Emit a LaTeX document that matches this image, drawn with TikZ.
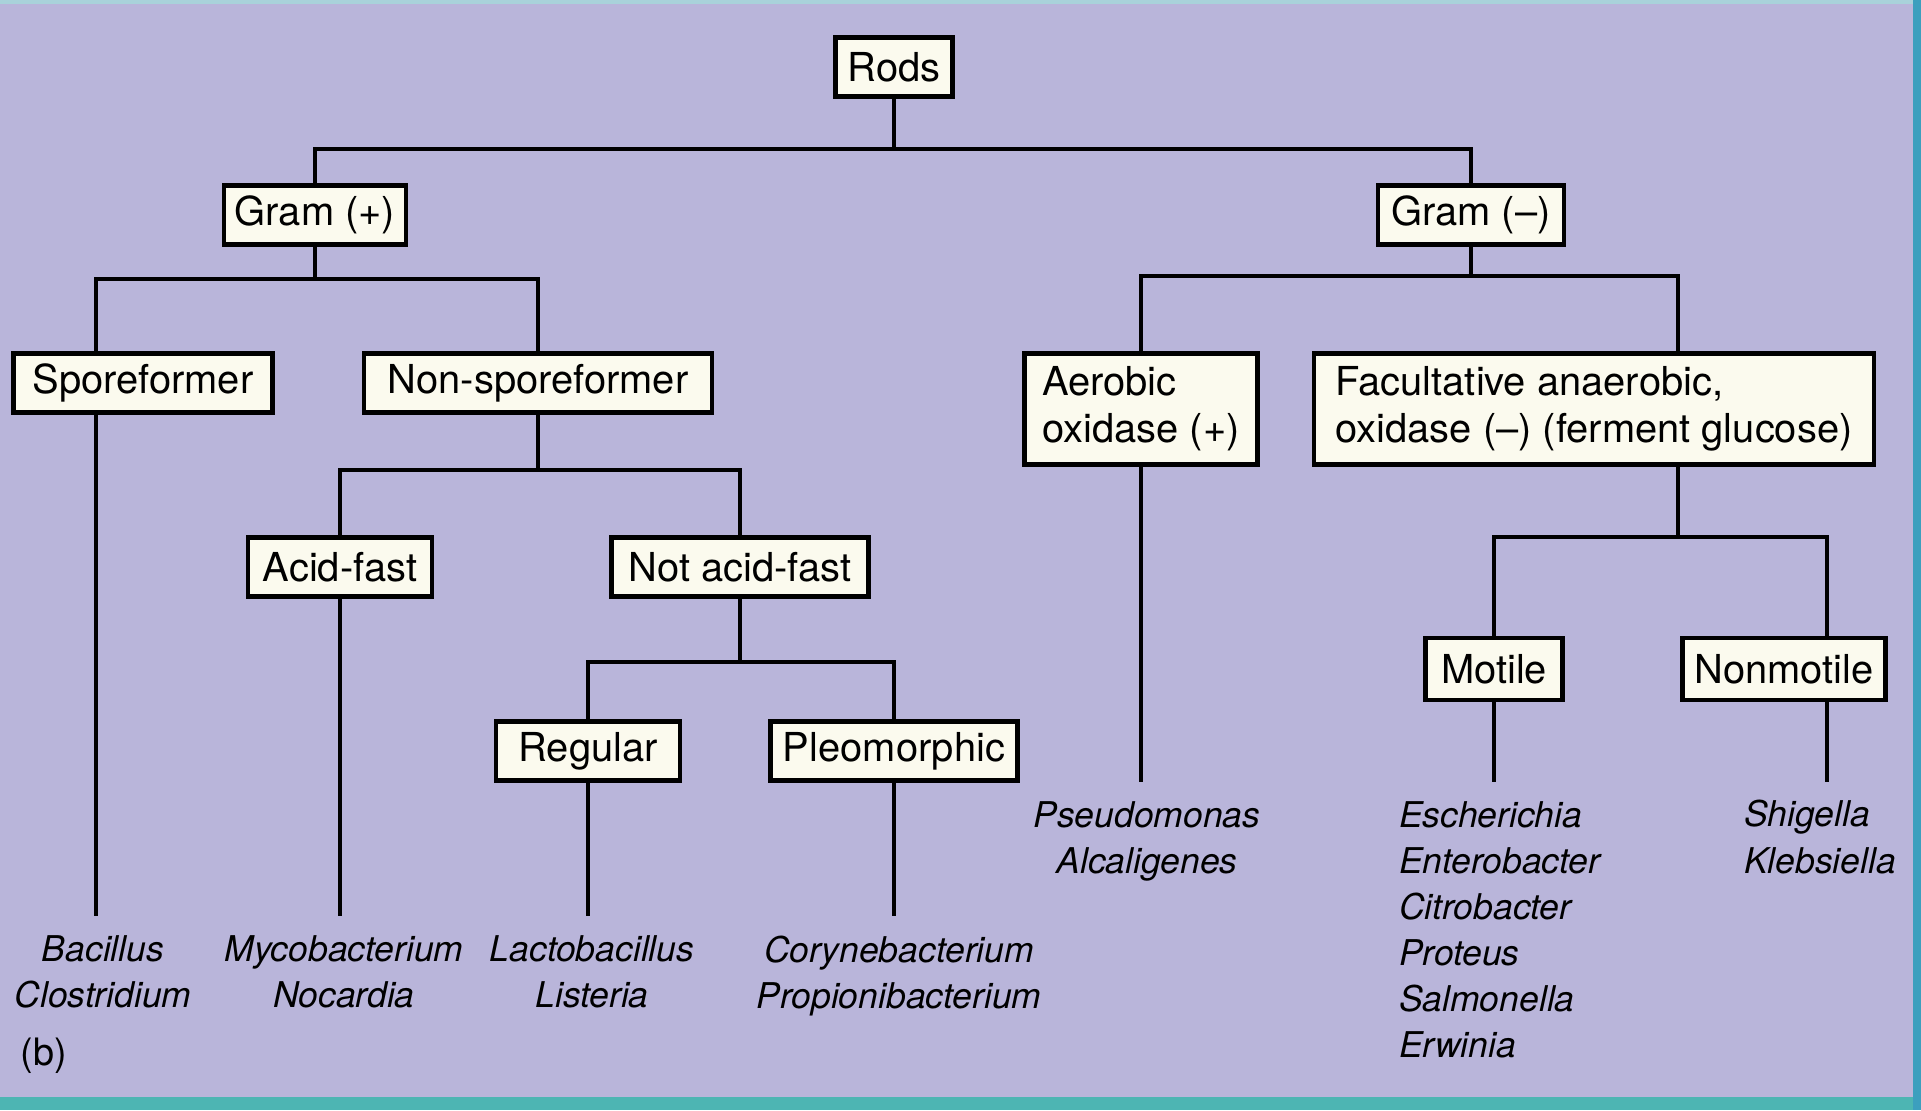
\documentclass[tikz,border=0pt]{standalone}
\usepackage{fontspec}
\setmainfont{TeX Gyre Heros}

\definecolor{backlav}{HTML}{B9B5DA}
\definecolor{boxfill}{HTML}{FBFAEE}
\definecolor{stripteal}{HTML}{4DB5B3}
\definecolor{stripblue}{HTML}{3C9FBE}
\definecolor{striplight}{HTML}{A9D2DA}

\begin{document}
\begin{tikzpicture}[x=0.02cm, y=-0.02cm, line width=2.4pt, line join=miter,
    box/.style={draw, fill=boxfill, minimum height=1.18cm, inner sep=0pt,
      font=\fontsize{22.7}{26.7}\selectfont},
    genus/.style={align=center, inner sep=0pt, font=\fontsize{20.2}{26.2}\selectfont\itshape}]

  \useasboundingbox (0,0) rectangle (1921,1110);
  \fill[backlav] (0,0) rectangle (1921,1110);
  \fill[striplight] (0,0) rectangle (1921,4);
  \fill[stripteal] (0,1097) rectangle (1921,1110);
  \fill[stripblue] (1913,0) rectangle (1921,1110);

  % boxes
  \node[box, minimum width=2.34cm] (rods) at (894,67) {Rods};
  \node[box, minimum width=3.64cm] (gpos) at (315,215) {Gram (+)};
  \node[box, minimum width=3.72cm] (gneg) at (1471,215) {Gram (–)};
  \node[box, minimum width=5.18cm] (spore) at (143,383) {Sporeformer};
  \node[box, minimum width=6.96cm] (nonspore) at (538,383) {Non-sporeformer};
  \node[box, minimum width=3.68cm] (acid) at (340,567) {Acid-fast};
  \node[box, minimum width=5.14cm] (notacid) at (740,567) {Not acid-fast};
  \node[box, minimum width=3.68cm] (regular) at (588,751) {Regular};
  \node[box, minimum width=4.94cm] (pleo) at (894,751) {Pleomorphic};
  \node[box, minimum width=4.66cm, minimum height=2.22cm, align=left] (aerobic)
    at (1141,409) {Aerobic\\oxidase (+)};
  \node[box, minimum width=11.2cm, minimum height=2.22cm, align=left] (facult)
    at (1594,409) {Facultative anaerobic,\\oxidase (–) (ferment glucose)};
  \node[box, minimum width=2.74cm, minimum height=1.24cm] (motile) at (1494,669) {Motile};
  \node[box, minimum width=4.06cm, minimum height=1.24cm] (nonmotile) at (1784,669) {Nonmotile};

  % genera
  \node[genus] (bac) at (103,972) {Bacillus\\Clostridium};
  \node[genus] (myco) at (344,972) {Mycobacterium\\Nocardia};
  \node[genus] (lacto) at (592,972) {Lactobacillus\\Listeria};
  \node[genus] (coryne) at (899,976) {Corynebacterium\\Propionibacterium};
  \node[genus] (pseudo) at (1147,841) {Pseudomonas\\Alcaligenes};
  \node[genus, align=left, anchor=west] (esch) at (1397,930)
    {Escherichia\\Enterobacter\\Citrobacter\\Proteus\\Salmonella\\Erwinia};
  \node[genus, align=left, anchor=west] (shig) at (1742,837) {Shigella\\Klebsiella};
  \node[font=\fontsize{21.5}{26}\selectfont, inner sep=0pt] (tag) at (44,1056) {(b)};

  % branch points and line ends
  \coordinate (k0) at (894,149);
  \coordinate (k1) at (315,279);
  \coordinate (k2) at (538,470);
  \coordinate (k3) at (740,662);
  \coordinate (k4) at (1471,276);
  \coordinate (k5) at (1678,537);
  \coordinate (sp) at (96,916);
  \coordinate (af) at (340,916);
  \coordinate (rg) at (588,916);
  \coordinate (pl) at (894,916);
  \coordinate (ae) at (1141,782);
  \coordinate (mo) at (1494,782);
  \coordinate (nm) at (1827,782);

  \draw (rods) -- (k0);
  \draw (gpos.north) |- (k0) -| (gneg.north);

  \draw (gpos) -- (k1);
  \draw (sp |- spore.north) |- (k1) -| (nonspore.north);
  \draw (sp |- spore.south) -- (sp);
  \draw (nonspore) -- (k2);
  \draw (acid.north) |- (k2) -| (notacid.north);
  \draw (acid) -- (af);
  \draw (notacid) -- (k3);
  \draw (regular.north) |- (k3) -| (pleo.north);
  \draw (regular) -- (rg);
  \draw (pleo) -- (pl);

  \draw (gneg) -- (k4);
  \draw (aerobic.north) |- (k4) -| (k5 |- facult.north);
  \draw (aerobic) -- (ae);
  \draw (k5 |- facult.south) -- (k5);
  \draw (motile.north) |- (k5) -| (nm |- nonmotile.north);
  \draw (motile) -- (mo);
  \draw (nm |- nonmotile.south) -- (nm);
\end{tikzpicture}
\end{document}
